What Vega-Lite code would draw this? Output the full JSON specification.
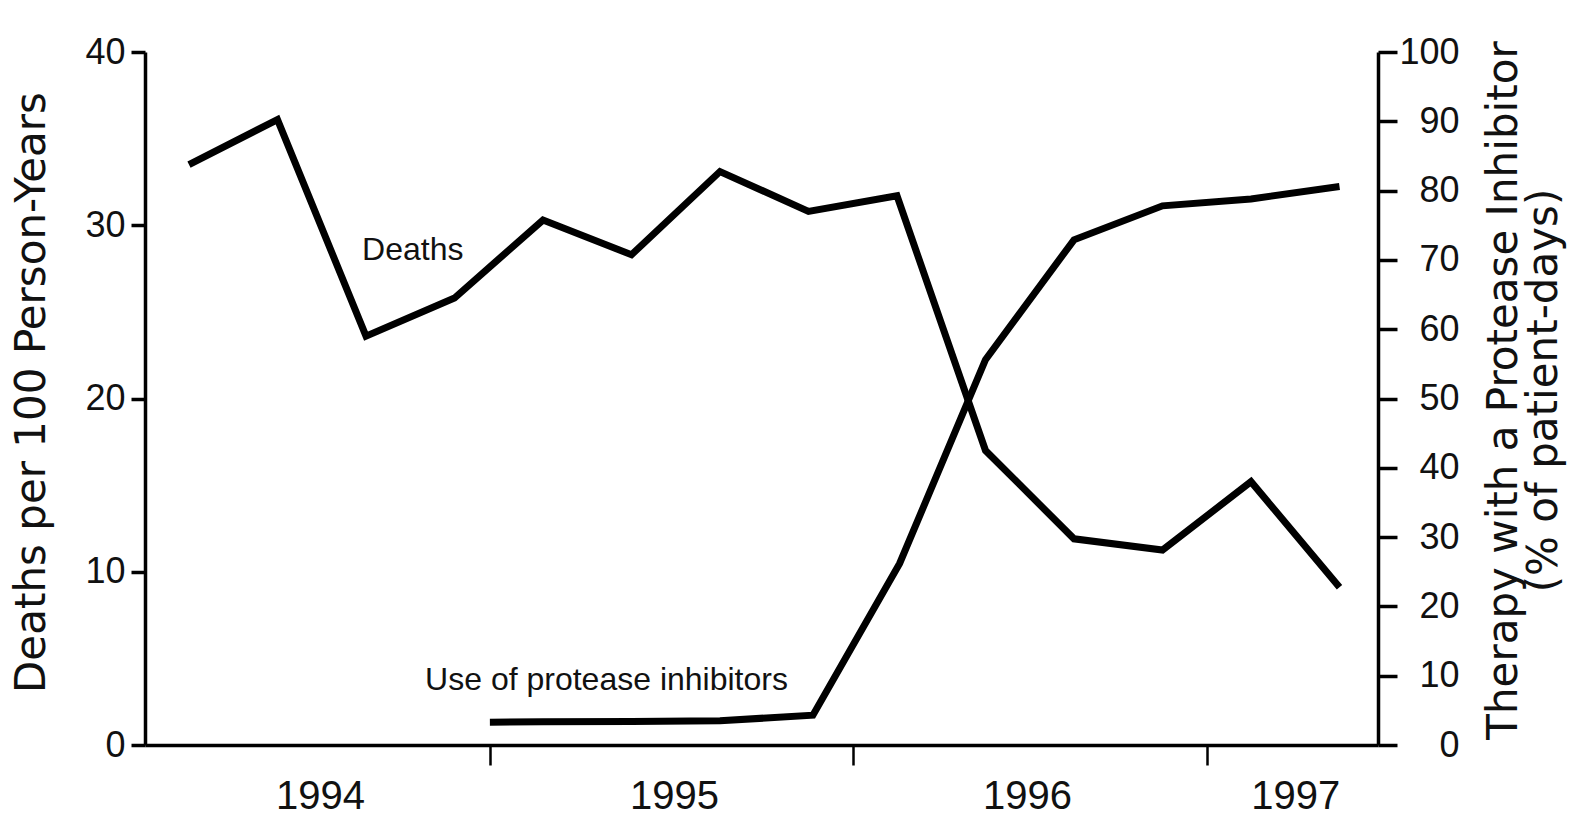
{
  "$schema": "https://vega.github.io/schema/vega-lite/v6.json",
  "width": 1233,
  "height": 693,
  "autosize": {"type": "none"},
  "padding": {"left": 145, "top": 52, "right": 196, "bottom": 70},
  "background": "white",
  "config": {
    "view": {"stroke": null},
    "axis": {"grid": false, "domainColor": "#000", "tickColor": "#000", "labelColor": "#111", "titleColor": "#111"}
  },
  "datasets": {
    "deaths": [
      {"q": 0, "rate": 33.5},
      {"q": 1, "rate": 36.1},
      {"q": 2, "rate": 23.6},
      {"q": 3, "rate": 25.8},
      {"q": 4, "rate": 30.3},
      {"q": 5, "rate": 28.3},
      {"q": 6, "rate": 33.1},
      {"q": 7, "rate": 30.8},
      {"q": 8, "rate": 31.7},
      {"q": 9, "rate": 17.0},
      {"q": 10, "rate": 11.9},
      {"q": 11, "rate": 11.25},
      {"q": 12, "rate": 15.2},
      {"q": 13, "rate": 9.1}
    ],
    "protease": [
      {"q": 3.4, "pct": 3.3},
      {"q": 4, "pct": 3.35},
      {"q": 5, "pct": 3.4},
      {"q": 6, "pct": 3.5},
      {"q": 7.05, "pct": 4.3},
      {"q": 8.03, "pct": 26.2},
      {"q": 9, "pct": 55.6},
      {"q": 10, "pct": 72.9},
      {"q": 11, "pct": 77.8},
      {"q": 12, "pct": 78.8},
      {"q": 13, "pct": 80.6}
    ],
    "notes": [
      {"q": 1.956, "y": 28.0, "label": "Deaths"},
      {"q": 2.668, "y": 3.17, "label": "Use of protease inhibitors"}
    ]
  },
  "encoding": {
    "x": {
      "field": "q",
      "type": "quantitative",
      "scale": {"domain": [-0.497, 13.435], "nice": false, "zero": false},
      "axis": {
        "title": null,
        "values": [1.48, 3.4, 5.48, 7.5, 9.47, 11.5, 12.5],
        "labelExpr": "datum.value == 1.48 ? '1994' : datum.value == 5.48 ? '1995' : datum.value == 9.47 ? '1996' : datum.value == 12.5 ? '1997' : ''",
        "tickOpacity": {"condition": {"test": "datum.value == 3.4 || datum.value == 7.5 || datum.value == 11.5", "value": 1}, "value": 0},
        "tickSize": 20,
        "tickWidth": 2.5,
        "domainWidth": 3.5,
        "labelFont": "Liberation Sans",
        "labelFontSize": 40,
        "labelPadding": 11,
        "labelOverlap": false,
        "labelFlush": false,
        "labelBound": false
      }
    }
  },
  "layer": [
    {
      "data": {"name": "deaths"},
      "mark": {"type": "line", "color": "#000", "strokeWidth": 7, "strokeJoin": "miter"},
      "encoding": {
        "y": {
          "field": "rate",
          "type": "quantitative",
          "scale": {"domain": [0, 40], "nice": false},
          "axis": {
            "orient": "left",
            "values": [0, 10, 20, 30, 40],
            "title": "Deaths per 100 Person-Years",
            "titleFont": "DejaVu Sans",
            "titleFontSize": 42,
            "titleFontWeight": "normal",
            "titleAngle": 270,
            "titleX": -101,
            "titleY": 340,
            "titleAlign": "center",
            "titleBaseline": "alphabetic",
            "labelFont": "Liberation Sans",
            "labelFontSize": 36,
            "labelPadding": 6,
            "tickSize": 14,
            "tickWidth": 3.5,
            "domainWidth": 3.5
          }
        }
      }
    },
    {
      "data": {"name": "protease"},
      "mark": {"type": "line", "color": "#000", "strokeWidth": 7, "strokeJoin": "miter"},
      "encoding": {
        "y": {
          "field": "pct",
          "type": "quantitative",
          "scale": {"domain": [0, 100], "nice": false},
          "axis": {
            "orient": "right",
            "values": [0, 10, 20, 30, 40, 50, 60, 70, 80, 90, 100],
            "title": ["Therapy with a Protease Inhibitor", "(% of patient-days)"],
            "titleFont": "DejaVu Sans",
            "titleFontSize": 42,
            "titleFontWeight": "normal",
            "titleAngle": 270,
            "titleX": 138,
            "titleY": 338,
            "titleAlign": "center",
            "titleBaseline": "alphabetic",
            "titleLineHeight": 40,
            "labelFont": "Liberation Sans",
            "labelFontSize": 36,
            "labelAlign": "right",
            "labelPadding": 62,
            "tickSize": 19,
            "tickWidth": 3.5,
            "domainWidth": 3.5
          }
        }
      }
    },
    {
      "data": {"name": "notes"},
      "mark": {"type": "text", "align": "left", "baseline": "alphabetic", "font": "Liberation Sans", "fontSize": 32, "color": "#111"},
      "encoding": {
        "y": {
          "field": "y",
          "type": "quantitative",
          "scale": {"domain": [0, 40], "nice": false},
          "axis": null
        },
        "text": {"field": "label"}
      }
    }
  ],
  "resolve": {"scale": {"y": "independent"}}
}
